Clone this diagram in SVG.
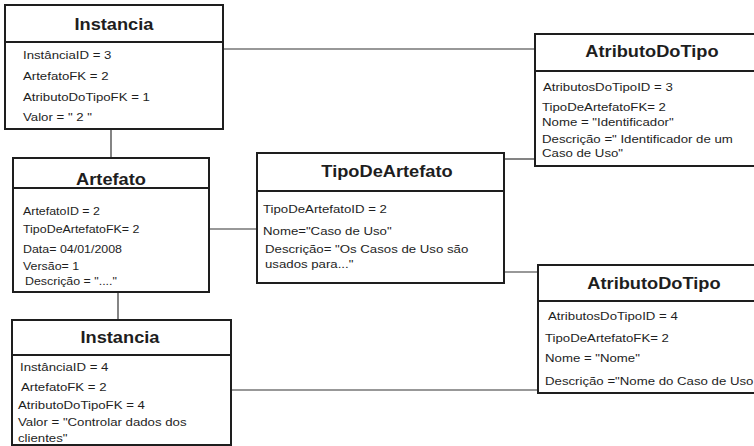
<svg xmlns="http://www.w3.org/2000/svg" width="754" height="446" viewBox="0 0 754 446">
<style>
.box{fill:#fff;stroke:#1e1e1e;stroke-width:2}
.dv{stroke:#1e1e1e;stroke-width:2}
.ttl{font-family:"Liberation Sans",Arial,sans-serif;font-weight:bold;font-size:16px;fill:#1e1e1e;text-anchor:middle;transform-box:fill-box;transform-origin:center;transform:scaleX(1.14)}
.txt{font-family:"Liberation Sans",Arial,sans-serif;font-size:11.5px;fill:#1e1e1e;transform-box:fill-box;transform-origin:left center;transform:scaleX(1.15)}
#artefato .txt{transform:scaleX(1.08)}
.con{fill:none;stroke:#333;stroke-width:1.2}
</style>
<rect width="754" height="446" fill="#fff"/>
<g id="connectors">
<line class="con" x1="223" y1="49" x2="535" y2="49"/>
<line class="con" x1="111" y1="129" x2="111" y2="158"/>
<line class="con" x1="209" y1="229" x2="257" y2="229"/>
<line class="con" x1="118" y1="292" x2="118" y2="320"/>
<line class="con" x1="504" y1="159" x2="535" y2="159"/>
<line class="con" x1="504" y1="272" x2="538" y2="272"/>
<line class="con" x1="231" y1="390" x2="538" y2="390"/>
</g>
<g id="instancia1">
<rect class="box" x="5" y="5" width="218" height="124"/>
<line class="dv" x1="5" y1="42" x2="223" y2="42"/>
<text class="ttl" x="114" y="30">Instancia</text>
<text class="txt" x="23" y="59">InstânciaID = 3</text>
<text class="txt" x="23" y="80">ArtefatoFK =  2</text>
<text class="txt" x="23" y="101">AtributoDoTipoFK = 1</text>
<text class="txt" x="23" y="121">Valor = " 2 "</text>
</g>
<g id="artefato">
<rect class="box" x="13" y="158" width="196" height="134"/>
<line class="dv" x1="13" y1="188" x2="209" y2="188"/>
<text class="ttl" x="111" y="185">Artefato</text>
<text class="txt" x="23" y="215">ArtefatoID =  2</text>
<text class="txt" x="23" y="233">TipoDeArtefatoFK= 2</text>
<text class="txt" x="23" y="253">Data= 04/01/2008</text>
<text class="txt" x="23" y="270">Versão= 1</text>
<text class="txt" x="25" y="285">Descrição = "...."</text>
</g>
<g id="instancia2">
<rect class="box" x="12" y="320" width="219" height="125"/>
<line class="dv" x1="12" y1="355" x2="231" y2="355"/>
<text class="ttl" x="120" y="343">Instancia</text>
<text class="txt" x="20" y="371">InstânciaID = 4</text>
<text class="txt" x="21" y="391">ArtefatoFK =  2</text>
<text class="txt" x="18" y="409">AtributoDoTipoFK = 4</text>
<text class="txt" x="18" y="426">Valor = "Controlar dados dos</text>
<text class="txt" x="18" y="442">clientes"</text>
</g>
<g id="tipoDeArtefato">
<rect class="box" x="257" y="153" width="247" height="130"/>
<line class="dv" x1="257" y1="191" x2="504" y2="191"/>
<text class="ttl" x="387" y="177">TipoDeArtefato</text>
<text class="txt" x="263" y="213">TipoDeArtefatoID = 2</text>
<text class="txt" x="263" y="235">Nome="Caso de Uso"</text>
<text class="txt" x="265" y="253">Descrição= "Os Casos de Uso são</text>
<text class="txt" x="265" y="268">usados para..."</text>
</g>
<g id="atributoDoTipo1">
<rect class="box" x="535" y="34" width="225" height="132"/>
<line class="dv" x1="535" y1="71" x2="760" y2="71"/>
<text class="ttl" x="652" y="57">AtributoDoTipo</text>
<text class="txt" x="543" y="91">AtributosDoTipoID = 3</text>
<text class="txt" x="542" y="111">TipoDeArtefatoFK= 2</text>
<text class="txt" x="542" y="126">Nome = "Identificador"</text>
<text class="txt" x="542" y="143">Descrição =" Identificador de um</text>
<text class="txt" x="542" y="157">Caso de Uso"</text>
</g>
<g id="atributoDoTipo2">
<rect class="box" x="538" y="265" width="222" height="128"/>
<line class="dv" x1="538" y1="301" x2="760" y2="301"/>
<text class="ttl" x="654" y="289">AtributoDoTipo</text>
<text class="txt" x="548" y="320">AtributosDoTipoID = 4</text>
<text class="txt" x="545" y="342">TipoDeArtefatoFK= 2</text>
<text class="txt" x="545" y="362">Nome = "Nome"</text>
<text class="txt" x="545" y="385">Descrição ="Nome do Caso de Uso</text>
</g>
</svg>
